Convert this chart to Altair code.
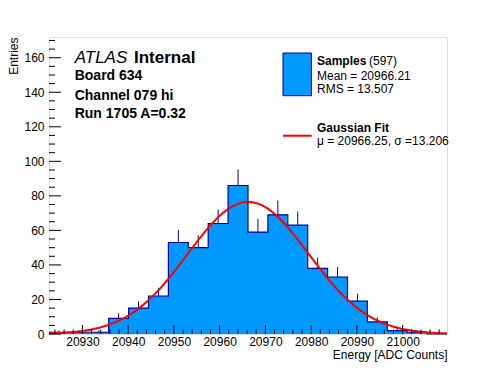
import altair as alt
import numpy as np
import pandas as pd

# ---- data ----
x_min, x_max = 20922.7, 21009.7
counts = [1, 1, 1, 9, 15, 22, 53, 50, 64, 86, 59, 69, 63, 38, 33, 19, 7, 2, 1, 0]
fit_mu, fit_sigma, fit_amp = 20966.25, 13.206, 76.5
y_max = 172
x_major = [20930, 20940, 20950, 20960, 20970, 20980, 20990, 21000]
x_minor = [v for v in range(20924, 21009, 2) if v % 10 != 0]
y_major = [0, 20, 40, 60, 80, 100, 120, 140, 160]
y_minor = [v for v in range(0, 171, 5) if v % 20 != 0]

FONT = "Liberation Sans"
FILL = "#0099ff"
LINE = "#000099"
W, H = 398, 297

edges = np.linspace(x_min, x_max, len(counts) + 1)
step_df = pd.DataFrame({"x": list(edges[:-1]) + [edges[-1]], "c": counts + [counts[-1]]})
bins_df = pd.DataFrame({"xc": (edges[:-1] + edges[1:]) / 2, "c": counts})

xs = alt.Scale(domain=[x_min, x_max], nice=False, zero=False)
ys = alt.Scale(domain=[0, y_max], nice=False, zero=True)

x_axis = alt.Axis(values=x_major, format="d", ticks=False, tickSize=0, domain=False, grid=False,
                  labelFontSize=12, labelFont=FONT, labelColor="black", labelPadding=2,
                  labelOverlap=False, labelFlush=False,
                  title="Energy [ADC Counts]", titleFont=FONT, titleFontSize=12,
                  titleFontWeight="normal", titleColor="black", titleAlign="right",
                  titleBaseline="alphabetic", titleX=W, titleY=24)
y_axis = alt.Axis(values=y_major, format="d", ticks=False, tickSize=0, domain=False, grid=False,
                  labelFontSize=12, labelFont=FONT, labelColor="black", labelPadding=5,
                  labelOverlap=False,
                  title="Entries", titleFont=FONT, titleFontSize=12, titleFontWeight="normal",
                  titleColor="black", titleAngle=270, titleAlign="right",
                  titleBaseline="alphabetic", titleX=-32, titleY=0)


def X(field):
    return alt.X(field, scale=xs, axis=x_axis)


def Y(field):
    return alt.Y(field, scale=ys, axis=y_axis)


fill = alt.Chart(step_df).mark_area(interpolate="step-after", color=FILL, opacity=1).encode(
    x=X("x:Q"), y=Y("c:Q"),
)

errs = alt.Chart(bins_df).transform_filter("datum.c > 0").transform_calculate(
    hi="datum.c + sqrt(datum.c)"
).mark_rule(color=LINE, strokeWidth=1).encode(
    x=X("xc:Q"), y=Y("c:Q"), y2="hi:Q",
)

outline = alt.Chart(step_df).mark_line(interpolate="step-after", color=LINE, strokeWidth=1.2).encode(
    x=X("x:Q"), y=Y("c:Q"),
)

curve = alt.Chart(alt.sequence(x_min, x_max + 0.01, 0.25, as_="x")).transform_calculate(
    g=f"{fit_amp} * exp(-0.5 * pow((datum.x - {fit_mu}) / {fit_sigma}, 2))"
).mark_line(color="#ff0000", strokeWidth=2).encode(
    x=X("x:Q"), y=Y("g:Q"),
)


def xticks(vals, length):
    return alt.Chart(pd.DataFrame({"v": vals})).mark_rule(color="black", strokeWidth=1).encode(
        x=X("v:Q"), y=alt.value(H), y2=alt.value(H - length))


def yticks(vals, length):
    return alt.Chart(pd.DataFrame({"v": vals})).mark_rule(color="black", strokeWidth=1).encode(
        y=Y("v:Q"), x=alt.value(0), x2=alt.value(length))


def txt(s, x, y, size=12, weight="normal", style="normal", color="black"):
    return alt.Chart(pd.DataFrame({"t": [s]})).mark_text(
        align="left", baseline="alphabetic", fontSize=size, fontWeight=weight,
        fontStyle=style, font=FONT, color=color,
    ).encode(x=alt.value(x), y=alt.value(y), text="t:N")


legend_box = alt.Chart(pd.DataFrame({"a": [0]})).mark_rect(
    fill=FILL, stroke=LINE, strokeWidth=1).encode(
    x=alt.value(234), x2=alt.value(262.4), y=alt.value(16), y2=alt.value(58.7))
legend_line = alt.Chart(pd.DataFrame({"a": [0]})).mark_rule(
    color="#ff0000", strokeWidth=2).encode(
    x=alt.value(234), x2=alt.value(262.7), y=alt.value(98.7))

texts = [
    txt("ATLAS", 25.7, 25.8, 17, style="italic"),
    txt("Internal", 85, 25.8, 17, weight="bold"),
    txt("Board 634", 25.7, 43.4, 14, weight="bold"),
    txt("Channel 079 hi", 25.7, 62.7, 14, weight="bold"),
    txt("Run 1705 A=0.32", 25.7, 81.4, 14, weight="bold"),
    txt("Samples", 268, 27.7, 12, weight="bold"),
    txt("(597)", 320, 27.7, 12),
    txt("Mean = 20966.21", 268, 43.4, 12),
    txt("RMS = 13.507", 268, 56, 12),
    txt("Gaussian Fit", 268, 95, 12, weight="bold"),
    txt("\u03bc = 20966.25, \u03c3 =13.206", 268, 107.5, 12),
]

chart = alt.layer(
    fill, errs, outline, curve,
    xticks(x_minor, 4.5), xticks(x_major, 9),
    yticks(y_minor, 6), yticks(y_major, 12),
    legend_box, legend_line, *texts,
).properties(
    width=W, height=H,
    autosize=alt.AutoSizeParams(type="none"),
    padding={"left": 41, "top": 29, "right": 40, "bottom": 30},
    background="white",
).configure_view(stroke="black", strokeWidth=1).configure(font=FONT)

chart.save("out.html", embed_options={"renderer": "svg", "actions": False})
